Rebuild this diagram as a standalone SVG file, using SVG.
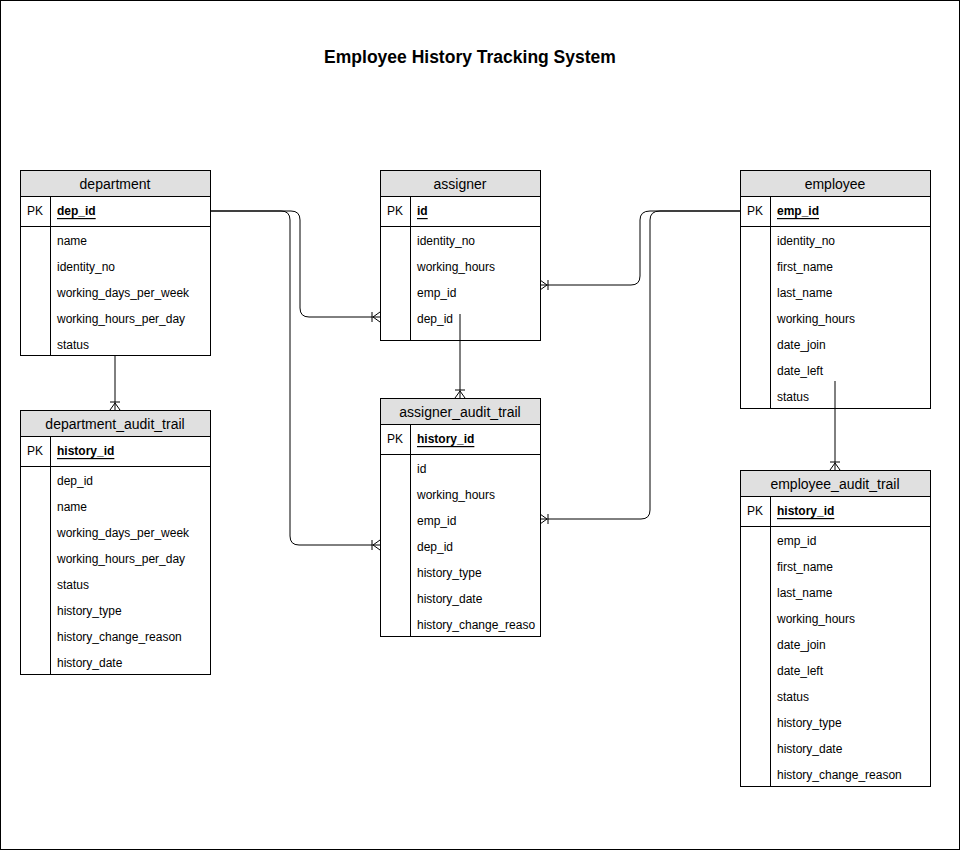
<svg xmlns="http://www.w3.org/2000/svg" width="961" height="851" viewBox="0 0 961 851">
<style>
text{font-family:"Liberation Sans",Arial,sans-serif;fill:#000}
.hdr{fill:#e0e0e0;stroke:#000;stroke-width:1}
.box{fill:#fff;stroke:#000;stroke-width:1}
.ln{stroke:#000;stroke-width:1;fill:none}
.th{font-size:14px;text-anchor:middle;dominant-baseline:central}
.f{font-size:12px;dominant-baseline:central}
.pk{font-size:12px;font-weight:bold;text-decoration:underline;dominant-baseline:central}
.conn{stroke:#000;stroke-width:1;fill:none;marker-end:url(#crow)}
</style>
<defs>
<marker id="crow" markerUnits="userSpaceOnUse" markerWidth="14" markerHeight="14" viewBox="0 -7 14 14" refX="10" refY="0" orient="auto" overflow="visible">
<path d="M2,-5 V5 M3,0 L10,-5 M3,0 L10,5" stroke="#000" stroke-width="1" fill="none"/>
</marker>
</defs>
<rect x="0.5" y="0.5" width="959" height="849" fill="#fff" stroke="#000" stroke-width="1"/>
<text x="470" y="63" font-size="17.5" font-weight="bold" text-anchor="middle">Employee History Tracking System</text>

<g id="department">
<rect class="box" x="20.5" y="170.5" width="190" height="185"/>
<rect class="hdr" x="20.5" y="170.5" width="190" height="26"/>
<path class="ln" d="M20.5,226.5 H210.5 M50.5,196.5 V355.5"/>
<text class="th" x="115" y="184">department</text>
<text class="f" x="27" y="211">PK</text>
<text class="pk" x="57" y="211">dep_id</text>
<text class="f" x="57" y="241">name</text>
<text class="f" x="57" y="267">identity_no</text>
<text class="f" x="57" y="293">working_days_per_week</text>
<text class="f" x="57" y="319">working_hours_per_day</text>
<text class="f" x="57" y="345">status</text>
</g>

<g id="assigner">
<rect class="box" x="380.5" y="170.5" width="160" height="170"/>
<rect class="hdr" x="380.5" y="170.5" width="160" height="26"/>
<path class="ln" d="M380.5,226.5 H540.5 M410.5,196.5 V340.5"/>
<text class="th" x="460" y="184">assigner</text>
<text class="f" x="387" y="211">PK</text>
<text class="pk" x="417" y="211">id</text>
<text class="f" x="417" y="241">identity_no</text>
<text class="f" x="417" y="267">working_hours</text>
<text class="f" x="417" y="293">emp_id</text>
<text class="f" x="417" y="319">dep_id</text>
</g>

<g id="employee">
<rect class="box" x="740.5" y="170.5" width="190" height="238"/>
<rect class="hdr" x="740.5" y="170.5" width="190" height="26"/>
<path class="ln" d="M740.5,226.5 H930.5 M770.5,196.5 V408.5"/>
<text class="th" x="835" y="184">employee</text>
<text class="f" x="747" y="211">PK</text>
<text class="pk" x="777" y="211">emp_id</text>
<text class="f" x="777" y="241">identity_no</text>
<text class="f" x="777" y="267">first_name</text>
<text class="f" x="777" y="293">last_name</text>
<text class="f" x="777" y="319">working_hours</text>
<text class="f" x="777" y="345">date_join</text>
<text class="f" x="777" y="371">date_left</text>
<text class="f" x="777" y="397">status</text>
</g>

<g id="department_audit_trail">
<rect class="box" x="20.5" y="410.5" width="190" height="264"/>
<rect class="hdr" x="20.5" y="410.5" width="190" height="26"/>
<path class="ln" d="M20.5,466.5 H210.5 M50.5,436.5 V674.5"/>
<text class="th" x="115" y="424">department_audit_trail</text>
<text class="f" x="27" y="451">PK</text>
<text class="pk" x="57" y="451">history_id</text>
<text class="f" x="57" y="481">dep_id</text>
<text class="f" x="57" y="507">name</text>
<text class="f" x="57" y="533">working_days_per_week</text>
<text class="f" x="57" y="559">working_hours_per_day</text>
<text class="f" x="57" y="585">status</text>
<text class="f" x="57" y="611">history_type</text>
<text class="f" x="57" y="637">history_change_reason</text>
<text class="f" x="57" y="663">history_date</text>
</g>

<g id="assigner_audit_trail">
<rect class="box" x="380.5" y="398.5" width="160" height="238"/>
<rect class="hdr" x="380.5" y="398.5" width="160" height="26"/>
<path class="ln" d="M380.5,454.5 H540.5 M410.5,424.5 V636.5"/>
<text class="th" x="460" y="412">assigner_audit_trail</text>
<text class="f" x="387" y="439">PK</text>
<text class="pk" x="417" y="439">history_id</text>
<text class="f" x="417" y="469">id</text>
<text class="f" x="417" y="495">working_hours</text>
<text class="f" x="417" y="521">emp_id</text>
<text class="f" x="417" y="547">dep_id</text>
<text class="f" x="417" y="573">history_type</text>
<text class="f" x="417" y="599">history_date</text>
<text class="f" x="417" y="625">history_change_reaso</text>
</g>

<g id="employee_audit_trail">
<rect class="box" x="740.5" y="470.5" width="190" height="316"/>
<rect class="hdr" x="740.5" y="470.5" width="190" height="26"/>
<path class="ln" d="M740.5,526.5 H930.5 M770.5,496.5 V786.5"/>
<text class="th" x="835" y="484">employee_audit_trail</text>
<text class="f" x="747" y="511">PK</text>
<text class="pk" x="777" y="511">history_id</text>
<text class="f" x="777" y="541">emp_id</text>
<text class="f" x="777" y="567">first_name</text>
<text class="f" x="777" y="593">last_name</text>
<text class="f" x="777" y="619">working_hours</text>
<text class="f" x="777" y="645">date_join</text>
<text class="f" x="777" y="671">date_left</text>
<text class="f" x="777" y="697">status</text>
<text class="f" x="777" y="723">history_type</text>
<text class="f" x="777" y="749">history_date</text>
<text class="f" x="777" y="775">history_change_reason</text>
</g>

<g id="connectors">
<path class="conn" d="M210,211 H291 Q300,211 300,220 V308 Q300,317 309,317 H380"/>
<path class="conn" d="M210,211 H281 Q290,211 290,220 V536 Q290,545 299,545 H380"/>
<path class="conn" d="M740,211 H650 Q640,211 640,220 V276 Q640,285 631,285 H540"/>
<path class="conn" d="M740,211 H660 Q650,211 650,220 V510 Q650,519 641,519 H540"/>
<path class="conn" d="M115,356 V410"/>
<path class="conn" d="M460,314 V398"/>
<path class="conn" d="M835,381 V470"/>
</g>
</svg>
